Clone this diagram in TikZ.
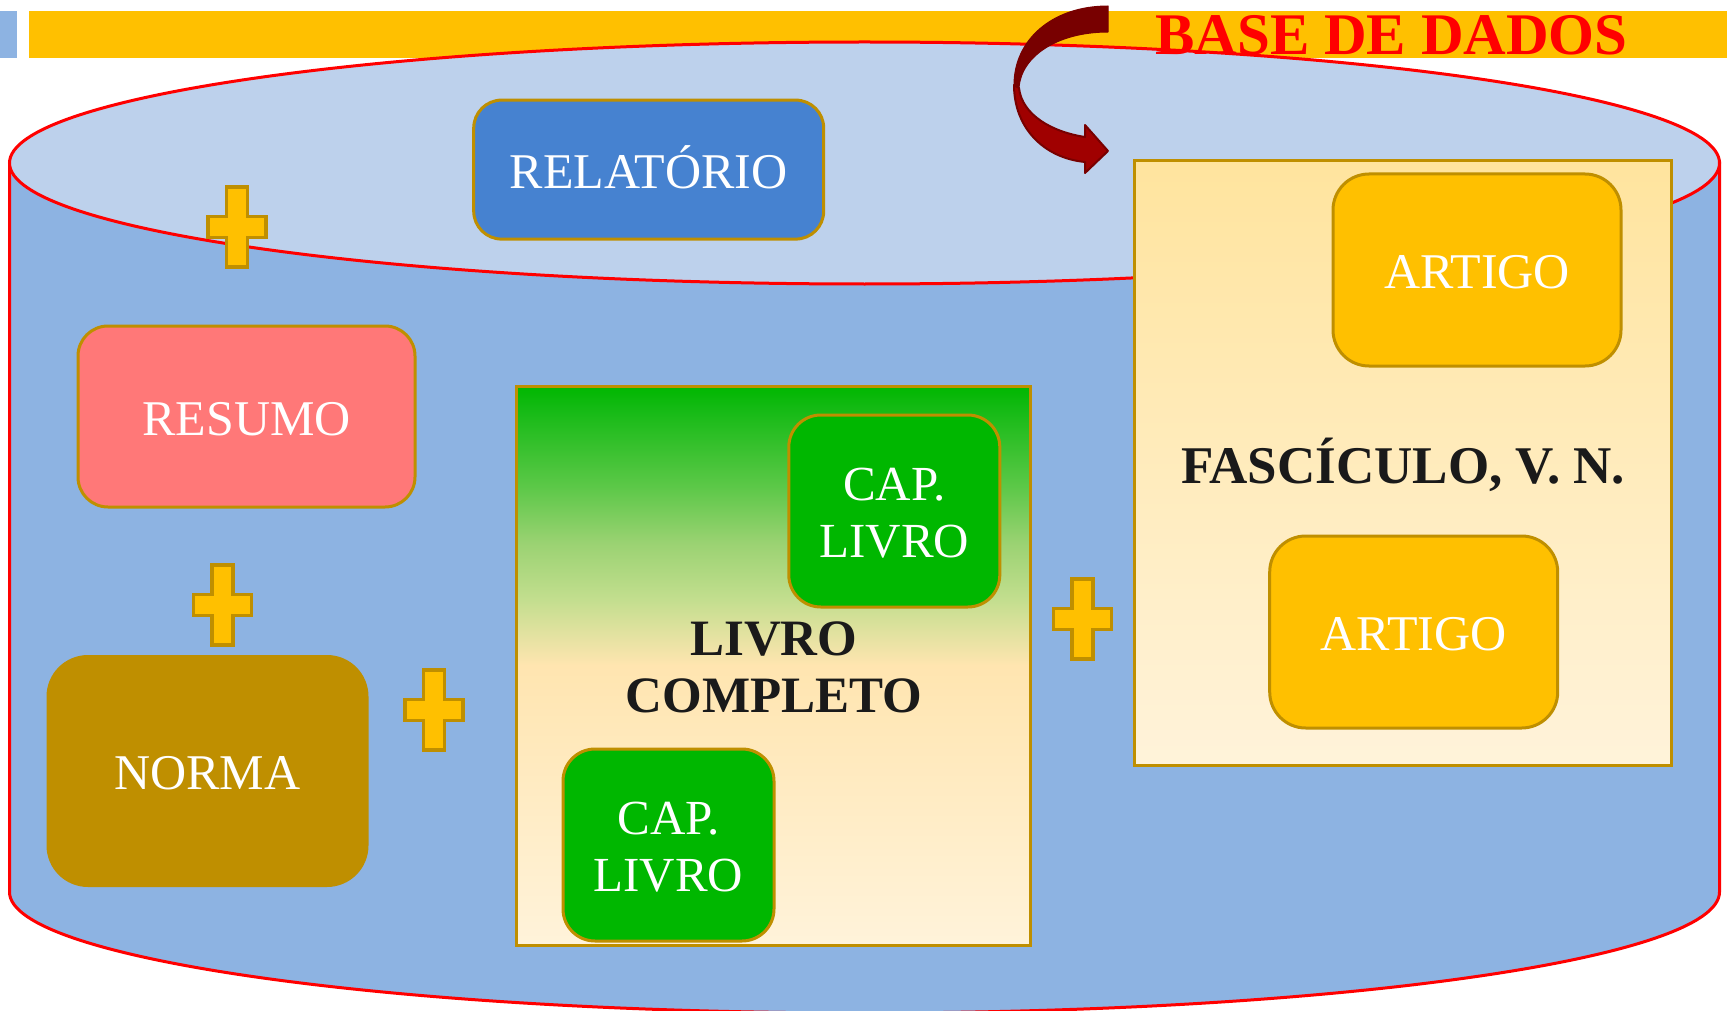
\documentclass[tikz,border=0pt]{standalone}
\usepackage{fontspec}
\setmainfont{Liberation Serif}
\definecolor{bodyblue}{HTML}{8DB3E2}
\definecolor{topblue}{HTML}{BDD1EC}
\definecolor{goldb}{HTML}{BF8F00}
\definecolor{amber}{HTML}{FFC000}
\definecolor{relblue}{HTML}{4682D0}
\definecolor{pinkr}{HTML}{FF7878}
\definecolor{greenc}{HTML}{00B700}
\definecolor{creamc}{HTML}{FFF3DA}
\definecolor{peachc}{HTML}{FFE5B0}
\definecolor{lgA}{HTML}{C2DE8E}
\definecolor{lgB}{HTML}{9AD272}
\definecolor{lgC}{HTML}{5CC848}
\definecolor{lgD}{HTML}{14BA14}
\definecolor{fasctop}{HTML}{FFE49E}
\definecolor{arrowred}{HTML}{A00000}
\definecolor{arrowdark}{HTML}{780000}
\definecolor{textblack}{HTML}{1A1A1A}
\pgfdeclareverticalshading{livroshade}{100bp}{color(0bp)=(creamc); color(25bp)=(creamc); color(50bp)=(peachc); color(56bp)=(lgA); color(61bp)=(lgB); color(66bp)=(lgC); color(73bp)=(lgD); color(75bp)=(greenc); color(100bp)=(greenc)}
\newcommand{\lblfont}{\fontsize{50}{57}\selectfont}
\newcommand{\caplfont}{\fontsize{49}{57}\selectfont}
\newcommand{\boldlbl}{\fontsize{51}{57}\selectfont\bfseries}
\newcommand{\fascfont}{\fontsize{53}{57}\selectfont\bfseries}
% move a line of text without changing the size the node sees
\newcommand{\dn}[1]{\raisebox{-2.2pt}[\height][\depth]{#1}}
\newcommand{\up}[1]{\raisebox{2.2pt}[\height][\depth]{#1}}
\tikzset{
  cyl/.style={draw=red, line width=3pt},
  itembox/.style={draw=goldb, line width=3pt, inner sep=0pt, text=white, font=\lblfont, align=center},
  plusst/.style={draw=goldb, fill=amber, line width=3.5pt, line join=miter},
  plusmark/.pic={
    \path[plusst] (-10.5,-40) -- (10.5,-40) -- (10.5,-10.5) -- (29,-10.5) -- (29,10.5) -- (10.5,10.5) -- (10.5,40) -- (-10.5,40) -- (-10.5,10.5) -- (-29,10.5) -- (-29,-10.5) -- (-10.5,-10.5) -- cycle;
  }
}
\begin{document}
\begin{tikzpicture}[x=1pt,y=-1pt]
\useasboundingbox (0,0) rectangle (1727,1011);
\clip (0,0) rectangle (1727,1011);
% header bars
\fill[bodyblue] (0,11) rectangle (17,58.5);
\fill[amber] (29,11) rectangle (1727,58.5);
% cylinder
\draw[cyl, fill=bodyblue] (9.5,163) -- (9.5,892) arc[start angle=180, end angle=0, x radius=855, y radius=121] -- (1719.5,163) -- cycle;
\draw[cyl, fill=topblue] (864.5,163) ellipse[x radius=855, y radius=121];
% boxes
\node[itembox, fill=relblue, rounded corners=28pt, minimum width=350pt, minimum height=139pt] (rel) at (648.7,169.6) {\up{RELATÓRIO}};
\node[itembox, fill=pinkr, rounded corners=30pt, minimum width=337pt, minimum height=181pt] (res) at (246.5,416.5) {\dn{RESUMO}};
\node[itembox, draw=goldb, fill=goldb, rounded corners=40pt, minimum width=319pt, minimum height=229pt] (nor) at (207.5,771) {\dn{NORMA}};
\node[draw=goldb, line width=3pt, inner sep=0pt, shade, shading=livroshade, minimum width=514pt, minimum height=559pt, text=textblack, font=\boldlbl, align=center] (livro) at (773.8,665.5) {\dn{LIVRO}\\\dn{COMPLETO}};
\node[itembox, font=\caplfont, fill=greenc, rounded corners=32pt, minimum width=211pt, minimum height=192pt] (cap1) at (894.3,511) {\dn{CAP.}\\\dn{LIVRO}};
\node[itembox, font=\caplfont, fill=greenc, rounded corners=32pt, minimum width=211pt, minimum height=192pt] (cap2) at (668.5,845) {\dn{CAP.}\\\dn{LIVRO}};
\node[draw=goldb, line width=3pt, inner sep=0pt, top color=fasctop, bottom color=creamc, minimum width=537pt, minimum height=604pt, text=textblack, font=\fascfont] (fasc) at (1403.2,463) {\dn{FASCÍCULO, V. N.}};
\node[itembox, fill=amber, rounded corners=36pt, minimum width=288pt, minimum height=192pt] (art1) at (1477,270) {\dn{ARTIGO}};
\node[itembox, fill=amber, rounded corners=36pt, minimum width=288pt, minimum height=192pt] (art2) at (1413.7,632) {\dn{ARTIGO}};
% plus signs
\pic (p1) at (237,227) {plusmark};
\pic (p2) at (222.5,605) {plusmark};
\pic (p3) at (434,710) {plusmark};
\pic (p4) at (1082.7,619) {plusmark};
% curved arrow
\filldraw[fill=arrowred, draw=arrowdark, line width=2pt, line join=round]
  (1014,85) .. controls (1014,128) and (1044,158) .. (1085,162) -- (1085,173) -- (1108,151) -- (1085,125) -- (1085,137) .. controls (1052,132) and (1022,115) .. (1019,88) -- cycle;
\filldraw[fill=arrowdark, draw=arrowdark, line width=1pt, line join=round]
  (1108,6) .. controls (1052,6) and (1014,40) .. (1014,85) -- (1019,88) .. controls (1021,56) and (1058,32) .. (1108,32) -- cycle;
% title
\node[text=red, font=\fontsize{59}{60}\selectfont\bfseries, inner sep=0pt] (title) at (1391.5,35.5) {BASE DE DADOS};
\end{tikzpicture}
\end{document}
